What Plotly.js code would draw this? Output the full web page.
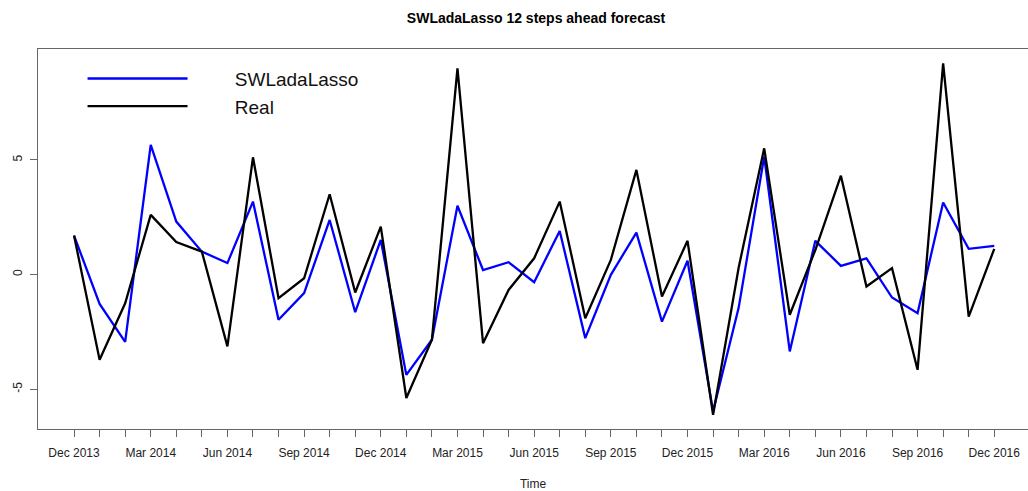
<!DOCTYPE html>
<html>
<head>
<meta charset="utf-8">
<script src="https://cdn.plot.ly/plotly-3.0.1.min.js"></script>
<style>
html,body{margin:0;padding:0;background:#fff;overflow:hidden;}
#chart{width:1028px;height:491px;}
</style>
</head>
<body>
<div id="chart"></div>
<script>
var months = ["Dec 2013","Jan 2014","Feb 2014","Mar 2014","Apr 2014","May 2014","Jun 2014","Jul 2014","Aug 2014","Sep 2014","Oct 2014","Nov 2014",
"Dec 2014","Jan 2015","Feb 2015","Mar 2015","Apr 2015","May 2015","Jun 2015","Jul 2015","Aug 2015","Sep 2015","Oct 2015","Nov 2015",
"Dec 2015","Jan 2016","Feb 2016","Mar 2016","Apr 2016","May 2016","Jun 2016","Jul 2016","Aug 2016","Sep 2016","Oct 2016","Nov 2016","Dec 2016"];

var forecast = [1.70,-1.28,-2.93,5.65,2.31,1.00,0.50,3.18,-1.97,-0.81,2.38,-1.64,
1.51,-4.37,-2.84,3.00,0.20,0.54,-0.33,1.90,-2.77,-0.01,1.83,-2.05,
0.60,-5.96,-1.45,5.14,-3.35,1.47,0.38,0.71,-1.00,-1.68,3.14,1.12,1.25];

var real = [1.70,-3.71,-1.25,2.60,1.42,1.00,-3.13,5.11,-1.03,-0.16,3.50,-0.78,
2.09,-5.38,-2.84,8.99,-2.99,-0.67,0.71,3.18,-1.90,0.64,4.56,-0.96,
1.47,-6.11,0.30,5.50,-1.75,1.07,4.31,-0.52,0.28,-4.15,9.20,-1.83,1.12];

var tickLabels = ["Dec 2013","","","Mar 2014","","","Jun 2014","","","Sep 2014","","",
"Dec 2014","","","Mar 2015","","","Jun 2015","","","Sep 2015","","",
"Dec 2015","","","Mar 2016","","","Jun 2016","","","Sep 2016","","","Dec 2016"];

var yTicks = [-5, 0, 5];
var yTickText = ['-5', '0', '5'];

var gap = '\u00a0\u00a0\u00a0\u00a0\u00a0\u00a0\u00a0\u00a0';

var traces = [
  {x: months, y: forecast, type: 'scatter', mode: 'lines', name: gap + 'SWLadaLasso',
   line: {color: '#0000FF', width: 2.3}},
  {x: months, y: real, type: 'scatter', mode: 'lines', name: gap + 'Real',
   line: {color: '#000000', width: 2.3}}
];

var layout = {
  width: 1028, height: 491,
  margin: {l: 38, r: 0, t: 49, b: 62, pad: 0},
  paper_bgcolor: '#ffffff', plot_bgcolor: '#ffffff',
  font: {family: 'Liberation Sans, Arial, sans-serif', color: '#000', size: 12},
  title: {text: 'SWLadaLasso 12 steps ahead forecast', xref: 'container', yref: 'container',
          x: 0.5214, y: 1 - 18/491, xanchor: 'center', yanchor: 'middle',
          font: {size: 14, weight: 'bold', color: '#000'}},
  xaxis: {type: 'category', range: [-1.41, 37.32], tickmode: 'array', tickvals: months, ticktext: tickLabels,
          ticks: 'outside', ticklen: 7, tickcolor: '#666', tickwidth: 1,
          showline: true, linecolor: '#666', linewidth: 1.3, mirror: true,
          showgrid: false, zeroline: false, tickangle: 0, ticklabelstandoff: 5,
          tickfont: {size: 12, color: '#222'},
          title: {text: 'Time', font: {size: 12, color: '#222'}, standoff: 21}},
  yaxis: {range: [-6.73, 9.83], tickmode: 'array', tickvals: yTicks, ticktext: yTickText,
          ticks: 'outside', ticklen: 7, tickcolor: '#666', tickwidth: 1,
          showline: true, linecolor: '#666', linewidth: 1.3, mirror: false,
          showgrid: false, zeroline: false, tickangle: -90, ticklabelstandoff: 3,
          tickfont: {size: 12, color: '#222'}},
  showlegend: true,
  legend: {x: 0.045, y: 0.972, xanchor: 'left', yanchor: 'top', bgcolor: 'rgba(0,0,0,0)',
           font: {size: 19, color: '#111'}, itemwidth: 100, tracegroupgap: 4}
};

Plotly.newPlot('chart', traces, layout, {displayModeBar: false, staticPlot: true});
</script>
</body>
</html>
